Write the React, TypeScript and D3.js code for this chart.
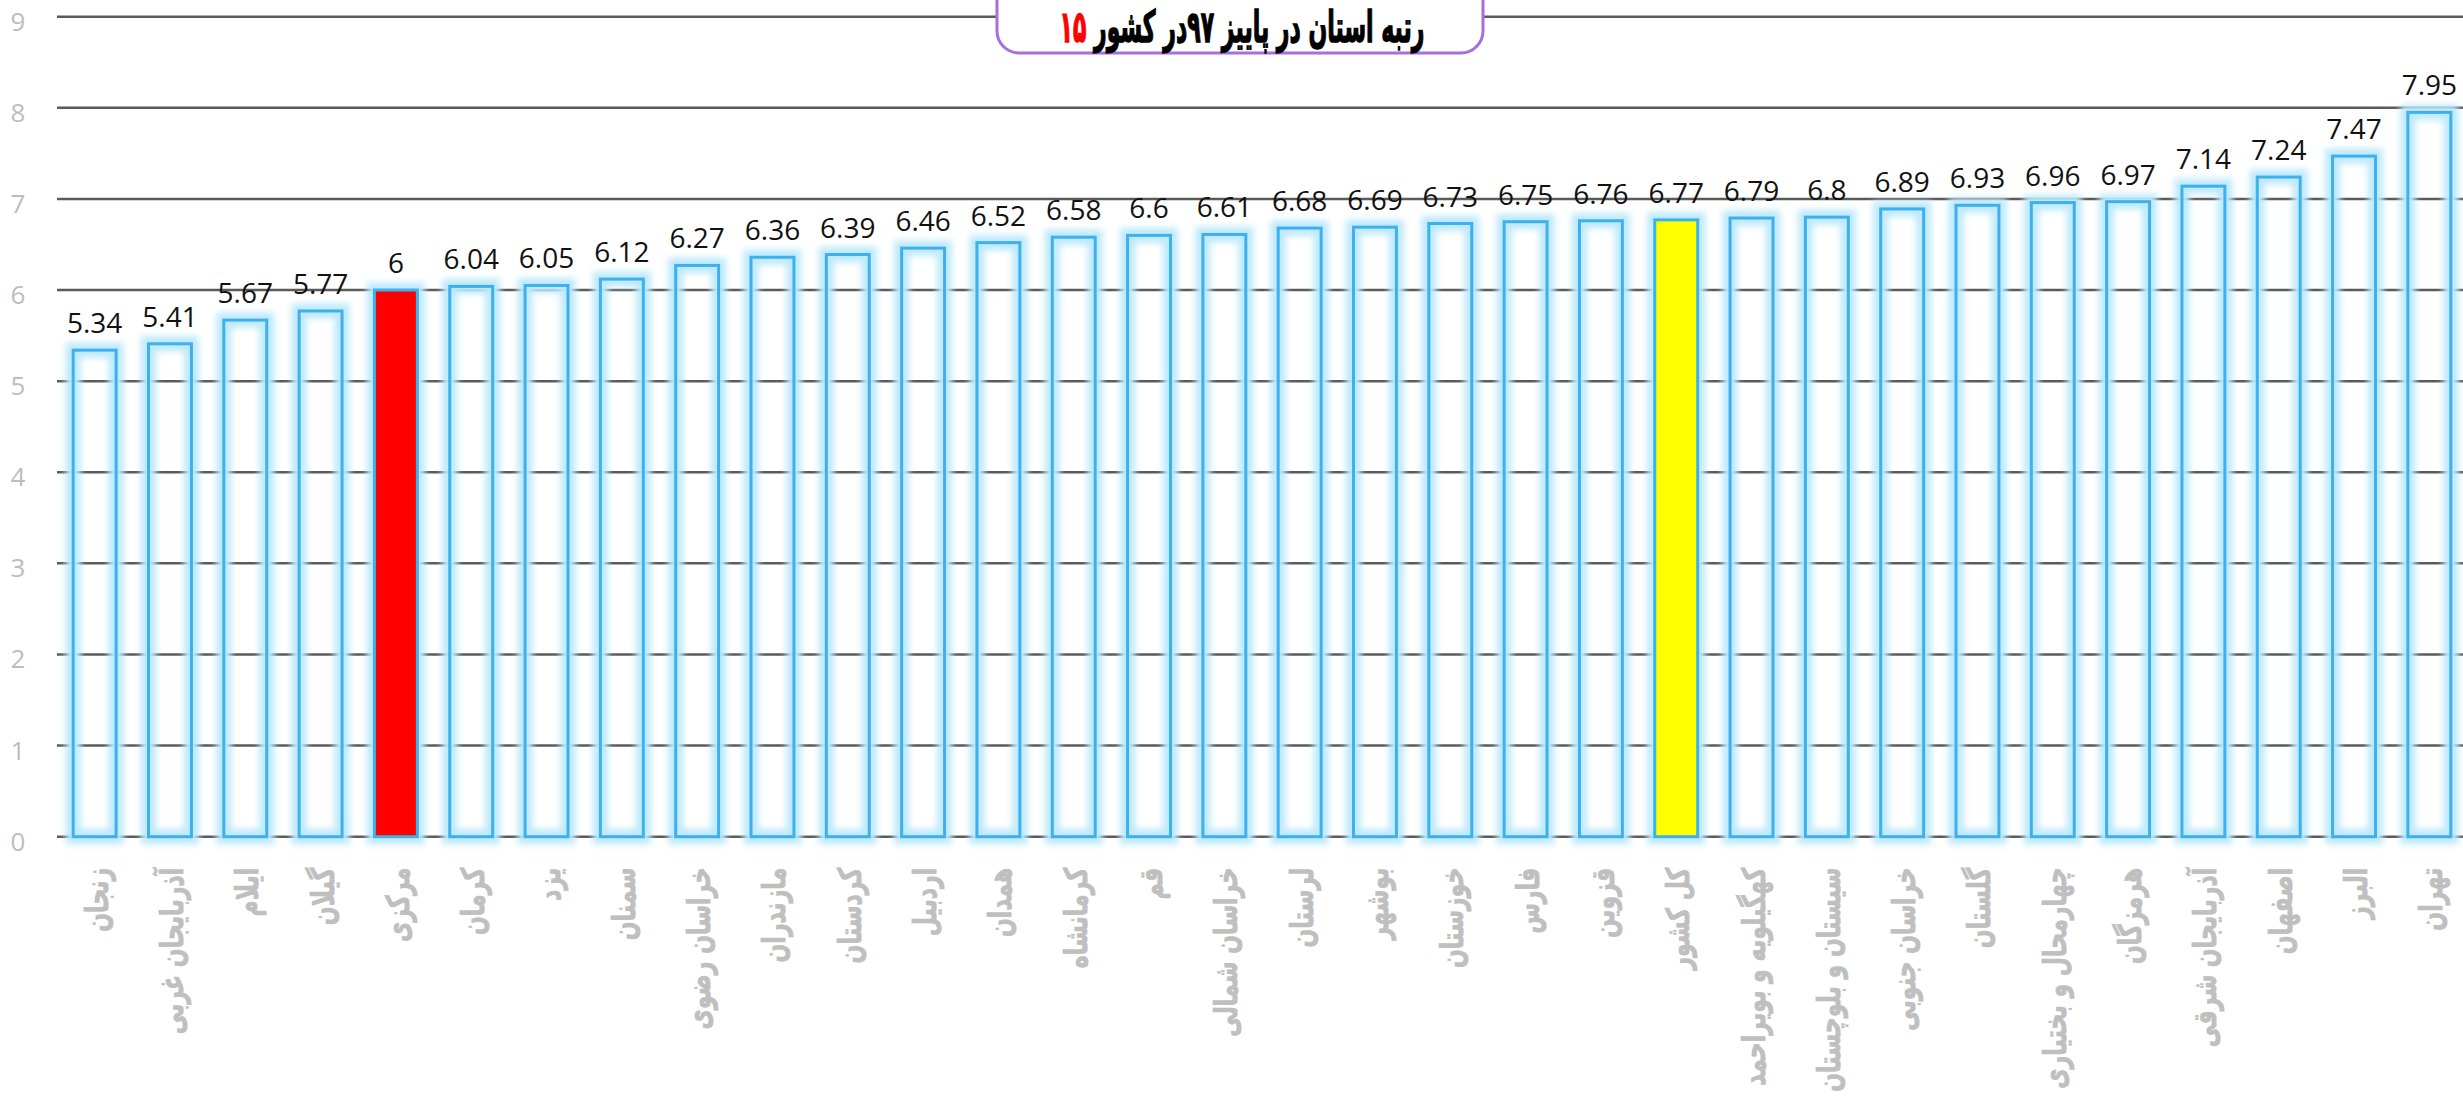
import React from 'react';
import * as d3 from 'd3';

const width = 2463;
const height = 1098;

const provinces = [
  'زنجان', 'آذربایجان غربی', 'ایلام', 'گیلان', 'مرکزی', 'کرمان', 'یزد', 'سمنان',
  'خراسان رضوی', 'مازندران', 'کردستان', 'اردبیل', 'همدان', 'کرمانشاه', 'قم',
  'خراسان شمالی', 'لرستان', 'بوشهر', 'خوزستان', 'فارس', 'قزوین', 'کل کشور',
  'کهگیلویه و بویراحمد', 'سیستان و بلوچستان', 'خراسان جنوبی', 'گلستان',
  'چهارمحال و بختیاری', 'هرمزگان', 'آذربایجان شرقی', 'اصفهان', 'البرز', 'تهران',
];
const scores = [
  5.34, 5.41, 5.67, 5.77, 6, 6.04, 6.05, 6.12, 6.27, 6.36, 6.39, 6.46, 6.52, 6.58, 6.6,
  6.61, 6.68, 6.69, 6.73, 6.75, 6.76, 6.77, 6.79, 6.8, 6.89, 6.93, 6.96, 6.97, 7.14,
  7.24, 7.47, 7.95,
];
const yTicks = [0, 1, 2, 3, 4, 5, 6, 7, 8, 9];
const highlight: Record<string, string> = { 'مرکزی': '#ff0000', 'کل کشور': '#ffff00' };

const titleText = 'رتبه استان در پاییز ۹۷در کشور ';
const titleRank = '۱۵';

const barStroke = '#3cb1ec';
const glow = '#bde9fc';

export default function App() {
  const x = d3
    .scaleBand()
    .domain(provinces)
    .range([57, 2467])
    .paddingInner(0.43)
    .paddingOuter(0.215);

  const y = d3.scaleLinear().domain([0, 9]).range([836.7, 16.7]);

  const data = provinces.map((name, i) => ({ name, value: scores[i] }));

  return (
    <svg
      width={width}
      height={height}
      style={{ position: 'fixed', left: 0, top: 0, background: '#fff' }}
    >
      <defs>
        <filter id="glow" x="-50%" y="-50%" width="200%" height="200%">
          <feGaussianBlur stdDeviation="3" />
        </filter>
      </defs>

      {/* grid */}
      {yTicks.map((t) => (
        <g key={t}>
          <line x1={57} x2={width} y1={y(t)} y2={y(t)} stroke="#5a5a5a" strokeWidth={2.5} />
          <text
            x={18}
            y={y(t) + 14}
            textAnchor="middle"
            fontFamily="'Open Sans', sans-serif"
            fontSize={26}
            fill="#bdbdbd"
          >
            {t}
          </text>
        </g>
      ))}

      {/* bars */}
      {data.map((d) => {
        const bx = x(d.name)!;
        const by = y(d.value);
        const bh = y(0) - by;
        const fill = highlight[d.name] || 'none';
        return (
          <g key={d.name}>
            <rect
              x={bx}
              y={by}
              width={x.bandwidth()}
              height={bh}
              fill="none"
              stroke={glow}
              strokeWidth={15}
              filter="url(#glow)"
            />
            <rect
              x={bx}
              y={by}
              width={x.bandwidth()}
              height={bh}
              fill={fill}
              stroke={barStroke}
              strokeWidth={3}
            />
            <text
              x={bx + x.bandwidth() / 2}
              y={by - 17}
              textAnchor="middle"
              fontFamily="'Open Sans', sans-serif"
              fontSize={28}
              fill="#111"
            >
              {d.value}
            </text>
            <text
              transform={`translate(${bx + x.bandwidth() / 2 + 13},${y(0) + 31}) rotate(-90) scale(0.69,1)`}
              direction="rtl"
              textAnchor="start"
              fontFamily="'DejaVu Sans', sans-serif"
              fontWeight="bold"
              fontSize={32}
              stroke="#bfbfbf"
              strokeWidth={0.8}
              fill="#bfbfbf"
            >
              {d.name}
            </text>
          </g>
        );
      })}

      {/* title box */}
      <rect x={997} y={-30} width={486} height={83} rx={22} fill="#fff" stroke="#a66fe0" strokeWidth={3} />
      <text
        transform="translate(1242,42) scale(0.5,1)"
        textAnchor="middle"
        direction="rtl"
        fontFamily="'DejaVu Sans', sans-serif"
        fontWeight="bold"
        fontSize={44}
        stroke="#000"
        strokeWidth={1.4}
        fill="#000"
      >
        {titleText}
        <tspan fill="#ff0000" stroke="#ff0000">{titleRank}</tspan>
      </text>
    </svg>
  );
}
